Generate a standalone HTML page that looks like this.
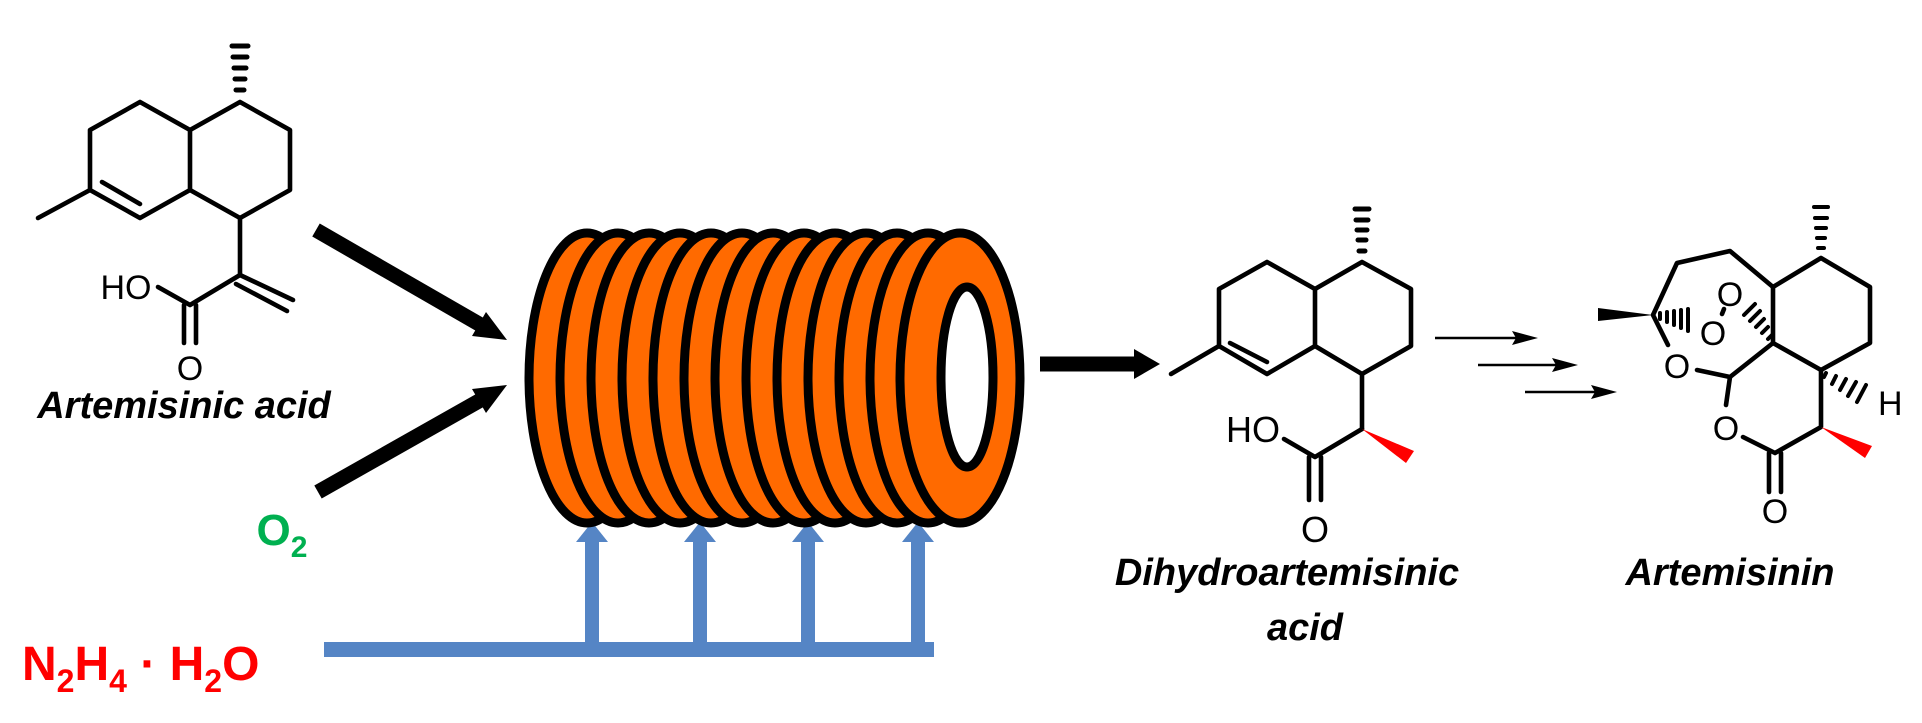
<!DOCTYPE html>
<html><head><style>
html,body{margin:0;padding:0;background:#fff;}
svg{display:block;}
text{font-family:"Liberation Sans",Arial,sans-serif;}
</style></head><body>
<svg width="1922" height="723" viewBox="0 0 1922 723" xmlns="http://www.w3.org/2000/svg">
<g stroke="#000" stroke-width="4.6" fill="none" stroke-linecap="round" stroke-linejoin="round">
<!-- Artemisinic acid -->
<polyline points="90,130 140,102 190,130 190,190 140,218 90,190 90,130"/>
<polyline points="190,130 240,102 290,130 290,190 240,218 190,190"/>
<line x1="102" y1="182" x2="140" y2="204"/>
<line x1="90" y1="190" x2="38" y2="218"/>
<line x1="240" y1="218" x2="240" y2="275"/>
<line x1="240" y1="275" x2="293" y2="300"/>
<line x1="236" y1="284" x2="287" y2="311"/>
<polyline points="158,287 190,305 240,275"/>
<line x1="184" y1="305" x2="184" y2="343"/>
<line x1="196" y1="305" x2="196" y2="343"/>
</g>
<g stroke="#000" stroke-linecap="round">
<line x1="232" y1="46" x2="248" y2="46" stroke-width="5"/>
<line x1="233" y1="57" x2="247" y2="57" stroke-width="5"/>
<line x1="234" y1="68" x2="246" y2="68" stroke-width="5"/>
<line x1="235" y1="79" x2="245" y2="79" stroke-width="5"/>
<line x1="236" y1="90" x2="244" y2="90" stroke-width="5"/>
</g>
<text x="126" y="299" font-size="34" text-anchor="middle">HO</text>
<text x="190" y="380" font-size="34" text-anchor="middle">O</text>
<text x="184" y="418" font-size="38" font-weight="bold" font-style="italic" text-anchor="middle">Artemisinic acid</text>

<!-- arrows into reactor -->
<g stroke="#000" stroke-width="15">
<line x1="316" y1="230" x2="486" y2="328"/>
<line x1="318" y1="492" x2="486" y2="397"/>
<line x1="1040" y1="364" x2="1140" y2="364"/>
</g>
<polygon points="507,340 472,336 486,312" fill="#000"/>
<polygon points="507,385 486,413 472,389" fill="#000"/>
<polygon points="1160,364 1134,349 1134,379" fill="#000"/>

<text x="282" y="545" font-size="44" font-weight="bold" fill="#00b050" text-anchor="middle">O<tspan font-size="30" dy="12">2</tspan></text>
<text x="22" y="680" font-size="48" font-weight="bold" fill="#ff0000">N<tspan font-size="32" dy="12">2</tspan><tspan dy="-12">H</tspan><tspan font-size="32" dy="12">4</tspan><tspan dy="-12"> · H</tspan><tspan font-size="32" dy="12">2</tspan><tspan dy="-12">O</tspan></text>

<!-- blue feed -->
<g fill="#5585c5">
<rect x="324" y="642" width="610" height="15"/>
<rect x="585" y="540" width="14" height="110"/>
<rect x="693" y="540" width="14" height="110"/>
<rect x="801" y="540" width="14" height="110"/>
<rect x="911" y="540" width="14" height="117"/>
<polygon points="592,522 576,542 608,542"/>
<polygon points="700,522 684,542 716,542"/>
<polygon points="808,522 792,542 824,542"/>
<polygon points="918,522 902,542 934,542"/>
</g>

<!-- reactor coil -->
<g fill="#ff6a00" stroke="#000" stroke-width="9">
<ellipse cx="587" cy="378" rx="58" ry="145"/>
<ellipse cx="618" cy="378" rx="58" ry="145"/>
<ellipse cx="649" cy="378" rx="58" ry="145"/>
<ellipse cx="680" cy="378" rx="58" ry="145"/>
<ellipse cx="711" cy="378" rx="58" ry="145"/>
<ellipse cx="742" cy="378" rx="58" ry="145"/>
<ellipse cx="773" cy="378" rx="58" ry="145"/>
<ellipse cx="804" cy="378" rx="58" ry="145"/>
<ellipse cx="835" cy="378" rx="58" ry="145"/>
<ellipse cx="866" cy="378" rx="58" ry="145"/>
<ellipse cx="897" cy="378" rx="58" ry="145"/>
<ellipse cx="928" cy="378" rx="58" ry="145"/>
<ellipse cx="960" cy="378" rx="60" ry="145"/>
<ellipse cx="967" cy="377" rx="26" ry="90" fill="#fff"/>
</g>

<!-- Dihydroartemisinic acid -->
<g stroke="#000" stroke-width="4.6" fill="none" stroke-linecap="round" stroke-linejoin="round">
<polyline points="1219,289 1267,262 1315,289 1315,346 1267,374 1219,346 1219,289"/>
<polyline points="1315,289 1362,262 1411,289 1411,346 1362,374 1315,346"/>
<line x1="1230" y1="343" x2="1267" y2="362"/>
<line x1="1219" y1="346" x2="1171" y2="374"/>
<line x1="1362" y1="374" x2="1362" y2="429"/>
<polyline points="1284,439 1315,457 1362,429"/>
<line x1="1309" y1="457" x2="1309" y2="500"/>
<line x1="1321" y1="457" x2="1321" y2="500"/>
</g>
<g stroke="#000" stroke-width="2.5">
<line x1="1435" y1="338" x2="1525" y2="338"/>
<line x1="1478" y1="365" x2="1565" y2="365"/>
<line x1="1525" y1="392" x2="1604" y2="392"/>
</g>
<polygon points="1538,338 1512,331 1516,338 1512,345" fill="#000"/>
<polygon points="1578,365 1552,358 1556,365 1552,372" fill="#000"/>
<polygon points="1617,392 1591,385 1595,392 1591,399" fill="#000"/>
<polygon points="1362,429 1414,451 1406,463" fill="#ff0000"/>
<g stroke="#000" stroke-linecap="round" stroke-width="5">
<line x1="1355" y1="209" x2="1369" y2="209"/>
<line x1="1356" y1="220" x2="1368" y2="220"/>
<line x1="1357" y1="230" x2="1367" y2="230"/>
<line x1="1358" y1="240" x2="1366" y2="240"/>
<line x1="1359" y1="251" x2="1365" y2="251"/>
</g>
<text x="1253" y="442" font-size="36" text-anchor="middle">HO</text>
<text x="1315" y="542" font-size="36" text-anchor="middle">O</text>
<text x="1287" y="585" font-size="38" font-weight="bold" font-style="italic" text-anchor="middle">Dihydroartemisinic</text>
<text x="1305" y="640" font-size="38" font-weight="bold" font-style="italic" text-anchor="middle">acid</text>

<!-- Artemisinin -->
<g stroke="#000" stroke-width="4.6" fill="none" stroke-linecap="round" stroke-linejoin="round">
<polyline points="1773,343 1773,287 1821,258 1870,287 1870,343 1821,370 1773,343"/>
<polyline points="1773,287 1730,251 1677,263 1653,315 1668,345"/>
<polyline points="1697,370 1730,377 1773,343"/>
<line x1="1730" y1="377" x2="1726" y2="405"/>
<polyline points="1743,437 1775,453 1821,427 1821,370"/>
<line x1="1769" y1="453" x2="1769" y2="492"/>
<line x1="1781" y1="453" x2="1781" y2="492"/>
<line x1="1724" y1="309" x2="1722" y2="314"/>
</g>
<polygon points="1653,315 1598,308 1598,321" fill="#000"/>
<polygon points="1821,427 1872,446 1865,458" fill="#ff0000"/>
<g stroke="#000" stroke-linecap="round" stroke-width="4">
<line x1="1660" y1="313" x2="1660" y2="319"/>
<line x1="1667" y1="312" x2="1667" y2="322"/>
<line x1="1674" y1="311" x2="1674" y2="325"/>
<line x1="1681" y1="310" x2="1681" y2="328"/>
<line x1="1688" y1="309" x2="1688" y2="331"/>
<line x1="1768" y1="339" x2="1772" y2="335"/>
<line x1="1762" y1="333" x2="1768" y2="327"/>
<line x1="1756" y1="327" x2="1764" y2="319"/>
<line x1="1750" y1="321" x2="1760" y2="311"/>
<line x1="1744" y1="315" x2="1755" y2="304"/>
<line x1="1826" y1="373" x2="1824" y2="377"/>
<line x1="1836" y1="376" x2="1832" y2="384"/>
<line x1="1846" y1="379" x2="1840" y2="390"/>
<line x1="1856" y1="382" x2="1848" y2="396"/>
<line x1="1866" y1="385" x2="1857" y2="402"/>
<line x1="1814" y1="207" x2="1828" y2="207"/>
<line x1="1815" y1="218" x2="1827" y2="218"/>
<line x1="1816" y1="228" x2="1826" y2="228"/>
<line x1="1817" y1="238" x2="1825" y2="238"/>
<line x1="1818" y1="248" x2="1824" y2="248"/>
</g>
<text x="1730" y="306" font-size="34" text-anchor="middle">O</text>
<text x="1713" y="345" font-size="34" text-anchor="middle">O</text>
<text x="1677" y="378" font-size="34" text-anchor="middle">O</text>
<text x="1726" y="440" font-size="34" text-anchor="middle">O</text>
<text x="1775" y="523" font-size="34" text-anchor="middle">O</text>
<text x="1878" y="415" font-size="34">H</text>
<text x="1730" y="585" font-size="38" font-weight="bold" font-style="italic" text-anchor="middle">Artemisinin</text>
</svg>
</body></html>
